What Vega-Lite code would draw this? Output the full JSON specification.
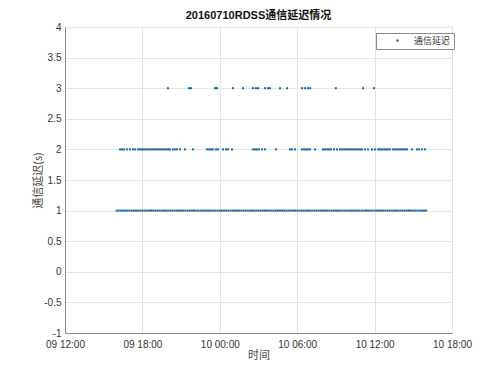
{
  "$schema": "https://vega.github.io/schema/vega-lite/v6.json",
  "width": 387,
  "height": 306,
  "autosize": {"type": "none"},
  "padding": {"left": 65, "top": 27, "right": 48, "bottom": 42},
  "background": "white",
  "config": {
    "view": {"stroke": "#8a8a8a", "strokeWidth": 1},
    "font": "Liberation Sans, Noto Sans CJK SC",
    "axis": {
      "labelFont": "Liberation Sans, Noto Sans CJK SC",
      "titleFont": "Noto Sans CJK SC",
      "labelFontSize": 10,
      "labelColor": "#333333",
      "titleColor": "#444444",
      "titleFontSize": 11,
      "titleFontWeight": "normal",
      "gridColor": "#e3e3e3",
      "gridWidth": 1,
      "domainColor": "#8a8a8a",
      "ticks": false,
      "labelFlush": false,
      "labelOverlap": false,
      "labelBound": false
    }
  },
  "title": {
    "text": "20160710RDSS通信延迟情况",
    "font": "Liberation Sans, Noto Sans CJK SC",
    "fontSize": 11,
    "fontWeight": "bold",
    "color": "#111111",
    "anchor": "middle",
    "offset": 1
  },
  "data": {
    "values": [
      {"t": "2016-07-09T16:00", "v": 1}, {"t": "2016-07-09T16:10", "v": 1}, {"t": "2016-07-09T16:20", "v": 1}, {"t": "2016-07-09T16:30", "v": 1}, {"t": "2016-07-09T16:40", "v": 1}, {"t": "2016-07-09T16:50", "v": 1},
      {"t": "2016-07-09T17:00", "v": 1}, {"t": "2016-07-09T17:10", "v": 1}, {"t": "2016-07-09T17:20", "v": 1}, {"t": "2016-07-09T17:30", "v": 1}, {"t": "2016-07-09T17:40", "v": 1}, {"t": "2016-07-09T17:50", "v": 1},
      {"t": "2016-07-09T18:00", "v": 1}, {"t": "2016-07-09T18:10", "v": 1}, {"t": "2016-07-09T18:20", "v": 1}, {"t": "2016-07-09T18:30", "v": 1}, {"t": "2016-07-09T18:40", "v": 1}, {"t": "2016-07-09T18:50", "v": 1},
      {"t": "2016-07-09T19:00", "v": 1}, {"t": "2016-07-09T19:10", "v": 1}, {"t": "2016-07-09T19:20", "v": 1}, {"t": "2016-07-09T19:30", "v": 1}, {"t": "2016-07-09T19:40", "v": 1}, {"t": "2016-07-09T19:50", "v": 1},
      {"t": "2016-07-09T20:00", "v": 1}, {"t": "2016-07-09T20:10", "v": 1}, {"t": "2016-07-09T20:20", "v": 1}, {"t": "2016-07-09T20:30", "v": 1}, {"t": "2016-07-09T20:40", "v": 1}, {"t": "2016-07-09T20:50", "v": 1},
      {"t": "2016-07-09T21:00", "v": 1}, {"t": "2016-07-09T21:10", "v": 1}, {"t": "2016-07-09T21:20", "v": 1}, {"t": "2016-07-09T21:30", "v": 1}, {"t": "2016-07-09T21:40", "v": 1}, {"t": "2016-07-09T21:50", "v": 1},
      {"t": "2016-07-09T22:00", "v": 1}, {"t": "2016-07-09T22:10", "v": 1}, {"t": "2016-07-09T22:20", "v": 1}, {"t": "2016-07-09T22:30", "v": 1}, {"t": "2016-07-09T22:40", "v": 1}, {"t": "2016-07-09T22:50", "v": 1},
      {"t": "2016-07-09T23:00", "v": 1}, {"t": "2016-07-09T23:10", "v": 1}, {"t": "2016-07-09T23:20", "v": 1}, {"t": "2016-07-09T23:30", "v": 1}, {"t": "2016-07-09T23:40", "v": 1}, {"t": "2016-07-09T23:50", "v": 1},
      {"t": "2016-07-10T00:00", "v": 1}, {"t": "2016-07-10T00:10", "v": 1}, {"t": "2016-07-10T00:20", "v": 1}, {"t": "2016-07-10T00:30", "v": 1}, {"t": "2016-07-10T00:40", "v": 1}, {"t": "2016-07-10T00:50", "v": 1},
      {"t": "2016-07-10T01:00", "v": 1}, {"t": "2016-07-10T01:10", "v": 1}, {"t": "2016-07-10T01:20", "v": 1}, {"t": "2016-07-10T01:30", "v": 1}, {"t": "2016-07-10T01:40", "v": 1}, {"t": "2016-07-10T01:50", "v": 1},
      {"t": "2016-07-10T02:00", "v": 1}, {"t": "2016-07-10T02:10", "v": 1}, {"t": "2016-07-10T02:20", "v": 1}, {"t": "2016-07-10T02:30", "v": 1}, {"t": "2016-07-10T02:40", "v": 1}, {"t": "2016-07-10T02:50", "v": 1},
      {"t": "2016-07-10T03:00", "v": 1}, {"t": "2016-07-10T03:10", "v": 1}, {"t": "2016-07-10T03:20", "v": 1}, {"t": "2016-07-10T03:30", "v": 1}, {"t": "2016-07-10T03:40", "v": 1}, {"t": "2016-07-10T03:50", "v": 1},
      {"t": "2016-07-10T04:00", "v": 1}, {"t": "2016-07-10T04:10", "v": 1}, {"t": "2016-07-10T04:20", "v": 1}, {"t": "2016-07-10T04:30", "v": 1}, {"t": "2016-07-10T04:40", "v": 1}, {"t": "2016-07-10T04:50", "v": 1},
      {"t": "2016-07-10T05:00", "v": 1}, {"t": "2016-07-10T05:10", "v": 1}, {"t": "2016-07-10T05:20", "v": 1}, {"t": "2016-07-10T05:30", "v": 1}, {"t": "2016-07-10T05:40", "v": 1}, {"t": "2016-07-10T05:50", "v": 1},
      {"t": "2016-07-10T06:00", "v": 1}, {"t": "2016-07-10T06:10", "v": 1}, {"t": "2016-07-10T06:20", "v": 1}, {"t": "2016-07-10T06:30", "v": 1}, {"t": "2016-07-10T06:40", "v": 1}, {"t": "2016-07-10T06:50", "v": 1},
      {"t": "2016-07-10T07:00", "v": 1}, {"t": "2016-07-10T07:10", "v": 1}, {"t": "2016-07-10T07:20", "v": 1}, {"t": "2016-07-10T07:30", "v": 1}, {"t": "2016-07-10T07:40", "v": 1}, {"t": "2016-07-10T07:50", "v": 1},
      {"t": "2016-07-10T08:00", "v": 1}, {"t": "2016-07-10T08:10", "v": 1}, {"t": "2016-07-10T08:20", "v": 1}, {"t": "2016-07-10T08:30", "v": 1}, {"t": "2016-07-10T08:40", "v": 1}, {"t": "2016-07-10T08:50", "v": 1},
      {"t": "2016-07-10T09:00", "v": 1}, {"t": "2016-07-10T09:10", "v": 1}, {"t": "2016-07-10T09:20", "v": 1}, {"t": "2016-07-10T09:30", "v": 1}, {"t": "2016-07-10T09:40", "v": 1}, {"t": "2016-07-10T09:50", "v": 1},
      {"t": "2016-07-10T10:00", "v": 1}, {"t": "2016-07-10T10:10", "v": 1}, {"t": "2016-07-10T10:20", "v": 1}, {"t": "2016-07-10T10:30", "v": 1}, {"t": "2016-07-10T10:40", "v": 1}, {"t": "2016-07-10T10:50", "v": 1},
      {"t": "2016-07-10T11:00", "v": 1}, {"t": "2016-07-10T11:10", "v": 1}, {"t": "2016-07-10T11:20", "v": 1}, {"t": "2016-07-10T11:30", "v": 1}, {"t": "2016-07-10T11:40", "v": 1}, {"t": "2016-07-10T11:50", "v": 1},
      {"t": "2016-07-10T12:00", "v": 1}, {"t": "2016-07-10T12:10", "v": 1}, {"t": "2016-07-10T12:20", "v": 1}, {"t": "2016-07-10T12:30", "v": 1}, {"t": "2016-07-10T12:40", "v": 1}, {"t": "2016-07-10T12:50", "v": 1},
      {"t": "2016-07-10T13:00", "v": 1}, {"t": "2016-07-10T13:10", "v": 1}, {"t": "2016-07-10T13:20", "v": 1}, {"t": "2016-07-10T13:30", "v": 1}, {"t": "2016-07-10T13:40", "v": 1}, {"t": "2016-07-10T13:50", "v": 1},
      {"t": "2016-07-10T14:00", "v": 1}, {"t": "2016-07-10T14:10", "v": 1}, {"t": "2016-07-10T14:20", "v": 1}, {"t": "2016-07-10T14:30", "v": 1}, {"t": "2016-07-10T14:40", "v": 1}, {"t": "2016-07-10T14:50", "v": 1},
      {"t": "2016-07-10T15:00", "v": 1}, {"t": "2016-07-10T15:10", "v": 1}, {"t": "2016-07-10T15:20", "v": 1}, {"t": "2016-07-10T15:30", "v": 1}, {"t": "2016-07-10T15:40", "v": 1}, {"t": "2016-07-10T15:50", "v": 1},
      {"t": "2016-07-10T16:00", "v": 1},

      {"t": "2016-07-09T16:16", "v": 2}, {"t": "2016-07-09T16:25", "v": 2}, {"t": "2016-07-09T16:34", "v": 2}, {"t": "2016-07-09T16:48", "v": 2},
      {"t": "2016-07-09T17:02", "v": 2}, {"t": "2016-07-09T17:16", "v": 2}, {"t": "2016-07-09T17:26", "v": 2}, {"t": "2016-07-09T17:40", "v": 2},
      {"t": "2016-07-09T17:49", "v": 2}, {"t": "2016-07-09T17:58", "v": 2}, {"t": "2016-07-09T18:07", "v": 2}, {"t": "2016-07-09T18:17", "v": 2},
      {"t": "2016-07-09T18:26", "v": 2}, {"t": "2016-07-09T18:35", "v": 2}, {"t": "2016-07-09T18:45", "v": 2}, {"t": "2016-07-09T18:54", "v": 2},
      {"t": "2016-07-09T19:03", "v": 2}, {"t": "2016-07-09T19:13", "v": 2}, {"t": "2016-07-09T19:22", "v": 2}, {"t": "2016-07-09T19:31", "v": 2},
      {"t": "2016-07-09T19:40", "v": 2}, {"t": "2016-07-09T19:50", "v": 2}, {"t": "2016-07-09T19:59", "v": 2}, {"t": "2016-07-09T20:08", "v": 2},
      {"t": "2016-07-09T20:22", "v": 2}, {"t": "2016-07-09T20:32", "v": 2}, {"t": "2016-07-09T20:41", "v": 2}, {"t": "2016-07-09T20:55", "v": 2},
      {"t": "2016-07-09T21:18", "v": 2}, {"t": "2016-07-09T21:55", "v": 2}, {"t": "2016-07-09T23:00", "v": 2}, {"t": "2016-07-09T23:10", "v": 2},
      {"t": "2016-07-09T23:19", "v": 2}, {"t": "2016-07-09T23:28", "v": 2}, {"t": "2016-07-09T23:42", "v": 2}, {"t": "2016-07-09T23:52", "v": 2},
      {"t": "2016-07-10T00:15", "v": 2}, {"t": "2016-07-10T00:29", "v": 2}, {"t": "2016-07-10T00:38", "v": 2}, {"t": "2016-07-10T00:57", "v": 2},
      {"t": "2016-07-10T02:34", "v": 2}, {"t": "2016-07-10T02:44", "v": 2}, {"t": "2016-07-10T02:53", "v": 2}, {"t": "2016-07-10T03:02", "v": 2},
      {"t": "2016-07-10T03:16", "v": 2}, {"t": "2016-07-10T03:30", "v": 2}, {"t": "2016-07-10T04:21", "v": 2}, {"t": "2016-07-10T05:26", "v": 2},
      {"t": "2016-07-10T05:36", "v": 2}, {"t": "2016-07-10T05:50", "v": 2}, {"t": "2016-07-10T06:22", "v": 2}, {"t": "2016-07-10T06:32", "v": 2},
      {"t": "2016-07-10T06:41", "v": 2}, {"t": "2016-07-10T06:50", "v": 2}, {"t": "2016-07-10T07:00", "v": 2}, {"t": "2016-07-10T07:23", "v": 2},
      {"t": "2016-07-10T08:00", "v": 2}, {"t": "2016-07-10T08:09", "v": 2}, {"t": "2016-07-10T08:19", "v": 2}, {"t": "2016-07-10T08:28", "v": 2},
      {"t": "2016-07-10T08:37", "v": 2}, {"t": "2016-07-10T08:51", "v": 2}, {"t": "2016-07-10T09:05", "v": 2}, {"t": "2016-07-10T09:19", "v": 2},
      {"t": "2016-07-10T09:28", "v": 2}, {"t": "2016-07-10T09:38", "v": 2}, {"t": "2016-07-10T09:47", "v": 2}, {"t": "2016-07-10T09:56", "v": 2},
      {"t": "2016-07-10T10:06", "v": 2}, {"t": "2016-07-10T10:15", "v": 2}, {"t": "2016-07-10T10:24", "v": 2}, {"t": "2016-07-10T10:33", "v": 2},
      {"t": "2016-07-10T10:43", "v": 2}, {"t": "2016-07-10T10:52", "v": 2}, {"t": "2016-07-10T11:01", "v": 2}, {"t": "2016-07-10T11:15", "v": 2},
      {"t": "2016-07-10T11:29", "v": 2}, {"t": "2016-07-10T11:48", "v": 2}, {"t": "2016-07-10T12:02", "v": 2}, {"t": "2016-07-10T12:16", "v": 2},
      {"t": "2016-07-10T12:25", "v": 2}, {"t": "2016-07-10T12:34", "v": 2}, {"t": "2016-07-10T12:44", "v": 2}, {"t": "2016-07-10T12:53", "v": 2},
      {"t": "2016-07-10T13:02", "v": 2}, {"t": "2016-07-10T13:12", "v": 2}, {"t": "2016-07-10T13:26", "v": 2}, {"t": "2016-07-10T13:35", "v": 2},
      {"t": "2016-07-10T13:44", "v": 2}, {"t": "2016-07-10T13:53", "v": 2}, {"t": "2016-07-10T14:03", "v": 2}, {"t": "2016-07-10T14:12", "v": 2},
      {"t": "2016-07-10T14:21", "v": 2}, {"t": "2016-07-10T14:31", "v": 2}, {"t": "2016-07-10T14:54", "v": 2}, {"t": "2016-07-10T15:17", "v": 2},
      {"t": "2016-07-10T15:27", "v": 2}, {"t": "2016-07-10T15:40", "v": 2}, {"t": "2016-07-10T15:54", "v": 2},

      {"t": "2016-07-09T19:59", "v": 3}, {"t": "2016-07-09T21:37", "v": 3}, {"t": "2016-07-09T21:46", "v": 3}, {"t": "2016-07-09T23:38", "v": 3},
      {"t": "2016-07-09T23:47", "v": 3}, {"t": "2016-07-10T01:01", "v": 3}, {"t": "2016-07-10T01:48", "v": 3}, {"t": "2016-07-10T02:34", "v": 3},
      {"t": "2016-07-10T02:48", "v": 3}, {"t": "2016-07-10T02:58", "v": 3}, {"t": "2016-07-10T03:30", "v": 3}, {"t": "2016-07-10T03:44", "v": 3},
      {"t": "2016-07-10T03:53", "v": 3}, {"t": "2016-07-10T04:40", "v": 3}, {"t": "2016-07-10T05:13", "v": 3}, {"t": "2016-07-10T06:22", "v": 3},
      {"t": "2016-07-10T06:36", "v": 3}, {"t": "2016-07-10T06:50", "v": 3}, {"t": "2016-07-10T07:00", "v": 3}, {"t": "2016-07-10T09:00", "v": 3},
      {"t": "2016-07-10T11:06", "v": 3}, {"t": "2016-07-10T11:57", "v": 3}
    ]
  },
  "mark": {"type": "point", "shape": "square", "filled": true, "size": 4, "opacity": 1},
  "encoding": {
    "x": {
      "field": "t",
      "type": "temporal",
      "title": "时间",
      "scale": {
        "domain": [
          {"year": 2016, "month": 7, "date": 9, "hours": 12},
          {"year": 2016, "month": 7, "date": 10, "hours": 18}
        ],
        "nice": false
      },
      "axis": {
        "format": "%d %H:%M",
        "values": [
          {"year": 2016, "month": 7, "date": 9, "hours": 12},
          {"year": 2016, "month": 7, "date": 9, "hours": 18},
          {"year": 2016, "month": 7, "date": 10, "hours": 0},
          {"year": 2016, "month": 7, "date": 10, "hours": 6},
          {"year": 2016, "month": 7, "date": 10, "hours": 12},
          {"year": 2016, "month": 7, "date": 10, "hours": 18}
        ],
        "labelPadding": 6,
        "titlePadding": 0
      }
    },
    "y": {
      "field": "v",
      "type": "quantitative",
      "title": "通信延迟(s)",
      "scale": {"domain": [-1, 4], "nice": false, "zero": false},
      "axis": {
        "values": [-1, -0.5, 0, 0.5, 1, 1.5, 2, 2.5, 3, 3.5, 4],
        "labelExpr": "'' + datum.value",
        "labelPadding": 4,
        "titlePadding": 0
      }
    },
    "color": {
      "datum": "通信延迟",
      "type": "nominal",
      "scale": {"range": ["#16679c"]},
      "legend": {
        "title": null,
        "orient": "none",
        "legendX": 311,
        "legendY": 6,
        "strokeColor": "#8a8a8a",
        "fillColor": "white",
        "padding": 3,
        "symbolType": "circle",
        "symbolSize": 6,
        "symbolOffset": 14,
        "labelOffset": 12,
        "labelFont": "Noto Sans CJK SC",
        "labelFontSize": 9,
        "labelColor": "#333333"
      }
    }
  }
}
